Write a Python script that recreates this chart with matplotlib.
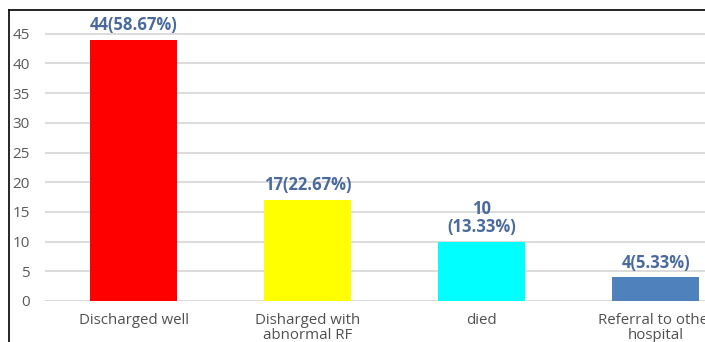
import matplotlib
matplotlib.use("Agg")
import matplotlib.pyplot as plt
from matplotlib.lines import Line2D

# outcome counts and shares
categories = ["Discharged well", "Disharged with\nabnormal RF", "died", "Referral to other\nhospital"]
counts = [44, 17, 10, 4]
labels = ["44(58.67%)", "17(22.67%)", "10\n(13.33%)", "4(5.33%)"]
colors = ["#ff0000", "#ffff00", "#00ffff", "#4f81bd"]
yticks = [0, 5, 10, 15, 20, 25, 30, 35, 40, 45]

plt.rcParams['font.family'] = ['Open Sans', 'DejaVu Sans']

W, H = 705, 342
fig = plt.figure(figsize=(W / 100, H / 100), dpi=100)
fig.patch.set_facecolor("white")

# axes run past the right edge, the last category is cut off
ax = fig.add_axes([45 / W, 41 / H, 698 / W, 291 / H])
x = list(range(len(categories)))
ax.bar(x, counts, width=0.5, color=colors, zorder=3)
ax.set_xlim(-0.51, 3.5)
ax.set_ylim(0, 49)

ax.set_yticks(yticks)
ax.set_xticks(x)
ax.set_xticklabels(categories, fontsize=10.8, color="#505050", linespacing=1.05)
ax.tick_params(axis="y", length=0, pad=11, labelsize=11, labelcolor="#595959")
ax.tick_params(axis="x", length=0, pad=8.5)
ax.grid(axis="y", color="#d9d9d9", linewidth=1.3, zorder=0)
for s in ax.spines.values():
    s.set_visible(False)

for xi, c, lab in zip(x, counts, labels):
    ax.annotate(lab, (xi, c), xytext=(0, 4), textcoords="offset points",
                ha="center", va="bottom", fontsize=12, fontweight="bold",
                color="#4a6a9c", linespacing=1.0)

# black frame on the left and top
fig.add_artist(Line2D([9 / W, 9 / W], [0, 1 - 10 / H], color="black", lw=1.2, transform=fig.transFigure))
fig.add_artist(Line2D([9 / W, 1], [1 - 10 / H, 1 - 10 / H], color="black", lw=1.2, transform=fig.transFigure))

fig.savefig("out.png", dpi=100)
